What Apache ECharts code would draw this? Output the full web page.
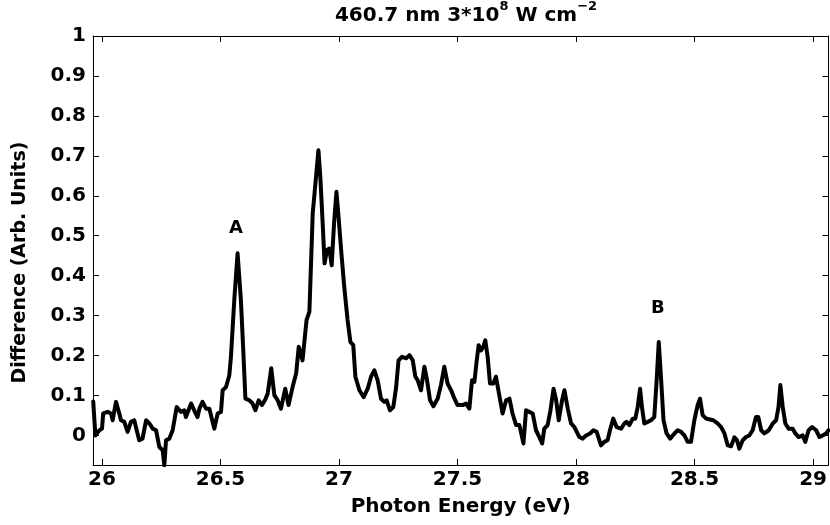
<!DOCTYPE html>
<html>
<head>
<meta charset="utf-8">
<script src="https://cdn.jsdelivr.net/npm/echarts@6/dist/echarts.min.js"></script>
<style>
html,body{margin:0;padding:0;background:#fff;}
#chart{width:830px;height:525px;}
</style>
</head>
<body>
<div id="chart"></div>
<script>
var energy = [25.963,25.972,25.989,26.000,26.005,26.024,26.038,26.045,26.059,26.073,26.080,26.094,26.108,26.122,26.136,26.143,26.157,26.171,26.186,26.200,26.214,26.228,26.242,26.256,26.263,26.270,26.284,26.298,26.315,26.333,26.347,26.354,26.376,26.389,26.403,26.411,26.424,26.439,26.453,26.474,26.488,26.502,26.509,26.523,26.537,26.544,26.558,26.572,26.586,26.596,26.605,26.622,26.635,26.647,26.661,26.675,26.689,26.699,26.714,26.727,26.741,26.755,26.773,26.787,26.804,26.819,26.830,26.846,26.863,26.875,26.889,26.903,26.913,26.921,26.931,26.939,26.949,26.959,26.969,26.979,26.989,26.998,27.010,27.022,27.036,27.048,27.060,27.069,27.086,27.104,27.121,27.135,27.149,27.163,27.177,27.191,27.201,27.215,27.229,27.241,27.251,27.266,27.283,27.297,27.311,27.322,27.332,27.346,27.360,27.370,27.384,27.398,27.416,27.430,27.444,27.458,27.473,27.487,27.500,27.522,27.536,27.550,27.561,27.571,27.581,27.589,27.599,27.609,27.617,27.627,27.637,27.651,27.662,27.676,27.690,27.705,27.719,27.732,27.747,27.761,27.778,27.789,27.803,27.817,27.831,27.845,27.857,27.866,27.880,27.892,27.905,27.916,27.927,27.941,27.951,27.965,27.979,27.993,28.014,28.028,28.042,28.059,28.073,28.087,28.105,28.119,28.133,28.143,28.157,28.171,28.190,28.204,28.213,28.225,28.239,28.250,28.260,28.270,28.278,28.288,28.302,28.316,28.330,28.340,28.349,28.359,28.369,28.382,28.397,28.415,28.429,28.443,28.457,28.471,28.485,28.499,28.513,28.523,28.534,28.549,28.565,28.579,28.597,28.612,28.626,28.640,28.654,28.668,28.679,28.689,28.703,28.717,28.731,28.745,28.759,28.769,28.781,28.794,28.813,28.830,28.844,28.854,28.862,28.872,28.883,28.897,28.914,28.925,28.939,28.956,28.967,28.981,28.996,29.013,29.027,29.040,29.055,29.065];
var diff = [0.085,0.000,0.013,0.017,0.055,0.059,0.055,0.038,0.084,0.055,0.038,0.034,0.009,0.034,0.038,0.021,-0.012,-0.008,0.038,0.030,0.017,0.013,-0.029,-0.037,-0.075,-0.012,-0.008,0.013,0.071,0.059,0.063,0.046,0.080,0.063,0.046,0.067,0.084,0.067,0.067,0.017,0.055,0.059,0.113,0.121,0.150,0.197,0.339,0.456,0.339,0.213,0.092,0.088,0.080,0.063,0.088,0.076,0.090,0.105,0.168,0.101,0.088,0.067,0.117,0.076,0.121,0.155,0.222,0.188,0.289,0.310,0.556,0.648,0.714,0.648,0.531,0.431,0.464,0.468,0.426,0.531,0.610,0.547,0.456,0.372,0.289,0.234,0.226,0.147,0.113,0.096,0.117,0.147,0.163,0.138,0.092,0.084,0.088,0.063,0.071,0.121,0.188,0.197,0.193,0.201,0.188,0.147,0.138,0.113,0.172,0.143,0.088,0.073,0.092,0.126,0.172,0.130,0.113,0.092,0.076,0.076,0.080,0.067,0.138,0.134,0.188,0.226,0.213,0.222,0.238,0.197,0.130,0.130,0.147,0.101,0.055,0.088,0.092,0.055,0.026,0.026,-0.020,0.063,0.059,0.055,0.013,-0.004,-0.020,0.017,0.026,0.063,0.117,0.088,0.038,0.088,0.113,0.067,0.030,0.021,-0.004,-0.008,0.000,0.005,0.013,0.009,-0.025,-0.016,-0.012,0.013,0.042,0.021,0.017,0.030,0.034,0.026,0.042,0.042,0.071,0.117,0.071,0.030,0.034,0.038,0.046,0.138,0.234,0.138,0.038,0.005,-0.008,0.005,0.013,0.009,0.000,-0.016,-0.016,0.038,0.076,0.092,0.051,0.042,0.040,0.038,0.030,0.021,0.005,-0.025,-0.027,-0.005,-0.012,-0.033,-0.012,-0.004,0.000,0.013,0.046,0.046,0.013,0.005,0.013,0.030,0.038,0.071,0.126,0.071,0.030,0.017,0.017,0.005,-0.004,0.000,-0.016,0.013,0.021,0.013,-0.004,0.000,0.005,0.013];

var xTicks = [26, 26.5, 27, 27.5, 28, 28.5, 29];
var yTicks = [0, 0.1, 0.2, 0.3, 0.4, 0.5, 0.6, 0.7, 0.8, 0.9, 1];

var annotLabels = ['A', 'B'];
var annotX = [26.565, 28.345];
var annotY = [0.519, 0.319];

var xMin = 25.962, xMax = 29.065;
var yMin = -0.074, yMax = 1;

var FONT = 'DejaVu Sans';

var lineData = energy.map(function (x, i) { return [x, diff[i]]; });
var annotData = annotLabels.map(function (n, i) { return { name: n, value: [annotX[i], annotY[i]] }; });

var axisLineStyle = { show: true, onZero: false, lineStyle: { color: '#000', width: 1 } };

var chart = echarts.init(document.getElementById('chart'), null, { renderer: 'canvas' });
chart.setOption({
  backgroundColor: '#fff',
  animation: false,
  title: {
    text: '{m|460.7 nm 3*10}{s|8}{m| W cm}{s|\u22122}',
    left: 461,
    textAlign: 'center',
    top: -5,
    textStyle: {
      rich: {
        m: { fontFamily: FONT, fontWeight: 'bold', fontSize: 20, color: '#000', lineHeight: 26, verticalAlign: 'bottom' },
        s: { fontFamily: FONT, fontWeight: 'bold', fontSize: 13, color: '#000', lineHeight: 26, verticalAlign: 'top' }
      }
    }
  },
  grid: { left: 93, right: 1, top: 36, bottom: 60, containLabel: false },
  xAxis: [{
    type: 'value', min: xMin, max: xMax, position: 'bottom',
    name: 'Photon Energy (eV)', nameLocation: 'middle', nameGap: 32,
    nameTextStyle: { fontFamily: FONT, fontWeight: 'bold', fontSize: 20, color: '#000' },
    axisLine: axisLineStyle,
    axisTick: { show: true, inside: true, length: 6, lineStyle: { color: '#000' }, customValues: xTicks },
    axisLabel: { show: true, margin: 5, fontFamily: FONT, fontWeight: 'bold', fontSize: 20, color: '#000', customValues: xTicks },
    splitLine: { show: false }
  }, {
    type: 'value', min: xMin, max: xMax, position: 'top',
    axisLine: axisLineStyle,
    axisTick: { show: true, inside: true, length: 6, lineStyle: { color: '#000' }, customValues: xTicks },
    axisLabel: { show: false },
    splitLine: { show: false }
  }],
  yAxis: [{
    type: 'value', min: yMin, max: yMax, position: 'left',
    name: 'Difference (Arb. Units)', nameLocation: 'middle', nameGap: 63, nameRotate: 90,
    nameTextStyle: { fontFamily: FONT, fontWeight: 'bold', fontSize: 19, color: '#000', padding: [0, 24, 0, 0] },
    axisLine: axisLineStyle,
    axisTick: { show: true, inside: true, length: 6, lineStyle: { color: '#000' }, customValues: yTicks },
    axisLabel: { show: true, margin: 7, fontFamily: FONT, fontWeight: 'bold', fontSize: 20, color: '#000', customValues: yTicks },
    splitLine: { show: false }
  }, {
    type: 'value', min: yMin, max: yMax, position: 'right',
    axisLine: axisLineStyle,
    axisTick: { show: true, inside: true, length: 6, lineStyle: { color: '#000' }, customValues: yTicks },
    axisLabel: { show: false },
    splitLine: { show: false }
  }],
  series: [{
    type: 'line',
    data: lineData,
    xAxisIndex: 0, yAxisIndex: 0,
    showSymbol: false, symbol: 'none',
    lineStyle: { color: '#000', width: 4, join: 'round', cap: 'round' },
    clip: true,
    silent: true
  }, {
    type: 'scatter',
    data: annotData,
    xAxisIndex: 0, yAxisIndex: 0,
    symbolSize: 0,
    itemStyle: { color: '#000', opacity: 1 },
    label: {
      show: true, position: 'inside', formatter: '{b}', opacity: 1,
      fontFamily: FONT, fontWeight: 'bold', fontSize: 18, color: '#000',
      textBorderWidth: 0
    },
    silent: true
  }]
});
</script>
</body>
</html>
